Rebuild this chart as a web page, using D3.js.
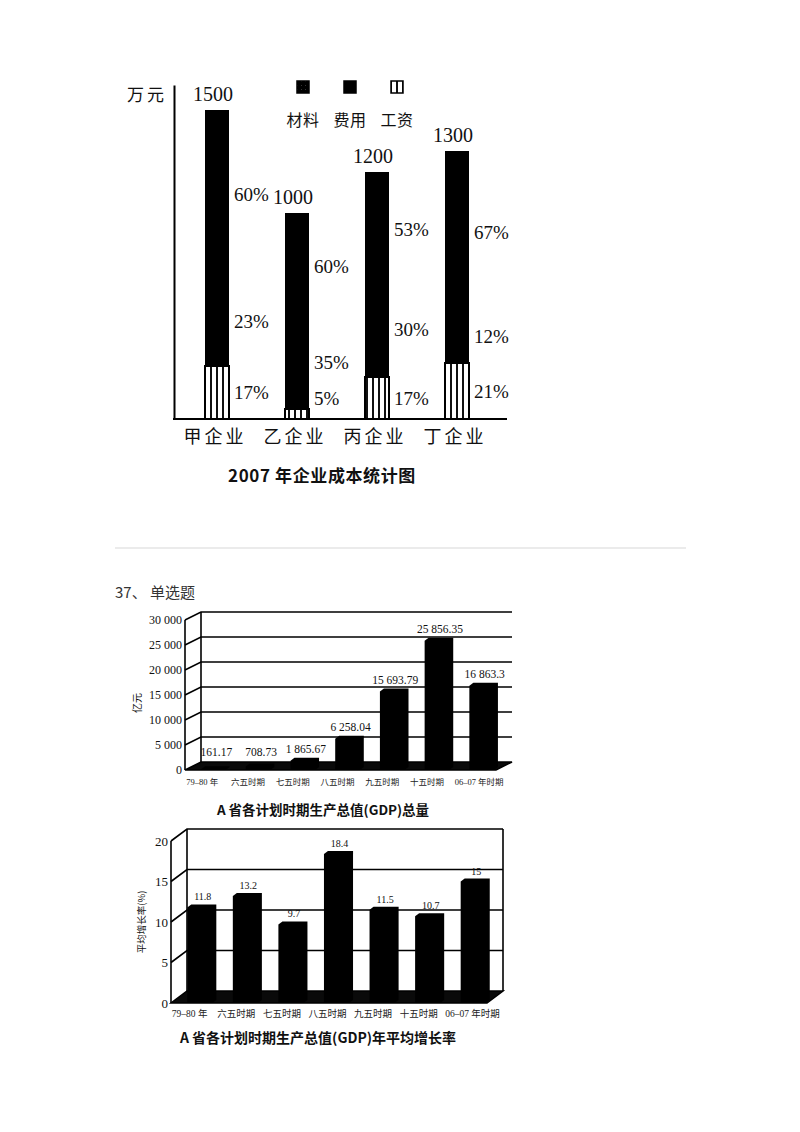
<!DOCTYPE html>
<html>
<head>
<meta charset="utf-8">
<script src="https://cdn.jsdelivr.net/npm/d3@7"></script>
<style>
  body { margin: 0; background: #fff; }
  text { fill: #111; }
</style>
</head>
<body>
<script>
// ---- data: 2007 企业成本统计图 ----
var companies = ["甲企业", "乙企业", "丙企业", "丁企业"];
var totalCost = [1500, 1000, 1200, 1300];
var materialShare = [60, 60, 53, 67];
var expenseShare = [23, 35, 30, 12];
var wageShare = [17, 5, 17, 21];
var costKeys = ["材料", "费用", "工资"];

// ---- data: GDP 总量 & 年平均增长率 ----
var periods = ["79–80 年", "六五时期", "七五时期", "八五时期", "九五时期", "十五时期", "06–07 年时期"];
var gdpTotal = [161.17, 708.73, 1865.67, 6258.04, 15693.79, 25856.35, 16863.3];
var gdpTicks = [0, 5000, 10000, 15000, 20000, 25000, 30000];
var growthRate = [11.8, 13.2, 9.7, 18.4, 11.5, 10.7, 15];
var growthTicks = [0, 5, 10, 15, 20];

var serif = "'Liberation Serif', 'DejaVu Serif', serif";
var cjk = "'Noto Sans CJK SC', 'Noto Sans', sans-serif";
var mixed = "'Liberation Serif', 'Noto Sans CJK SC', serif";

var svg = d3.select("body").append("svg")
  .attr("width", 800)
  .attr("height", 1132);

var defs = svg.append("defs");
var stripe = defs.append("pattern")
  .attr("id", "stripe")
  .attr("patternUnits", "userSpaceOnUse")
  .attr("width", 6).attr("height", 10);
stripe.append("rect").attr("width", 6).attr("height", 10).attr("fill", "#fff");
stripe.append("rect").attr("width", 2).attr("height", 10).attr("fill", "#111");

// slightly grainy black for the 材料 legend swatch
var grain = defs.append("pattern")
  .attr("id", "grain")
  .attr("patternUnits", "userSpaceOnUse")
  .attr("width", 4).attr("height", 4);
grain.append("rect").attr("width", 4).attr("height", 4).attr("fill", "#000");
grain.append("rect").attr("x", 1).attr("y", 1).attr("width", 1).attr("height", 1).attr("fill", "#333");

// ================= chart 1 =================
var rows = companies.map(function(c, i) {
  return {
    company: c,
    "工资": totalCost[i] * wageShare[i] / 100,
    "费用": totalCost[i] * expenseShare[i] / 100,
    "材料": totalCost[i] * materialShare[i] / 100,
    share: { "工资": wageShare[i], "费用": expenseShare[i], "材料": materialShare[i] },
    total: totalCost[i]
  };
});

var x1 = d3.scaleBand().domain(companies).range([177, 497])
  .paddingInner(0.7).paddingOuter(0.35);
var y1 = d3.scaleLinear().domain([0, 1620]).range([419, 85]);

var g1 = svg.append("g");

var stacked = d3.stack().keys(["工资", "费用", "材料"])(rows);
var fills = { "材料": "#000", "费用": "#000", "工资": "url(#stripe)" };

g1.selectAll("g.layer")
  .data(stacked)
  .enter().append("g")
  .attr("class", "layer")
  .selectAll("rect")
  .data(function(s) { return s.map(function(d) { d.key = s.key; return d; }); })
  .enter().append("rect")
  .attr("x", function(d) { return x1(d.data.company); })
  .attr("width", x1.bandwidth())
  .attr("y", function(d) { return Math.round(y1(d[1])); })
  .attr("height", function(d) { return Math.round(y1(d[0])) - Math.round(y1(d[1])) + (d.key === "工资" ? 0 : 1); })
  .attr("fill", function(d) { return fills[d.key]; })
  .attr("shape-rendering", "crispEdges")
  .attr("stroke", "#000")
  .attr("stroke-width", function(d) { return d.key === "工资" ? 1.5 : 0; });

// percent labels next to each segment
var labelShift = { "材料": -8, "费用": -10, "工资": 0 };
stacked.forEach(function(s) {
  g1.selectAll(null)
    .data(s)
    .enter().append("text")
    .attr("x", function(d) { return x1(d.data.company) + x1.bandwidth() + 5; })
    .attr("y", function(d) {
      var mid = y1((d[0] + d[1]) / 2) + labelShift[s.key];
      if (s.key === "工资") mid = Math.min(mid, y1(0) - 21);
      return mid;
    })
    .attr("dy", "0.35em")
    .attr("font-family", serif)
    .attr("font-size", 19)
    .text(function(d) { return d.data.share[s.key] + "%"; });
});

// totals on top
g1.selectAll("text.total")
  .data(rows)
  .enter().append("text")
  .attr("class", "total")
  .attr("x", function(d) { return x1(d.company) + x1.bandwidth() / 2 - 4; })
  .attr("y", function(d) { return y1(d.total) - 9; })
  .attr("text-anchor", "middle")
  .attr("font-family", serif)
  .attr("font-size", 20)
  .text(function(d) { return d.total; });

// axes
g1.append("g")
  .attr("transform", "translate(174,0)")
  .call(d3.axisLeft(y1).tickValues([]).tickSizeOuter(0))
  .select(".domain").attr("stroke-width", 2);

var xAxis1 = g1.append("g")
  .attr("transform", "translate(0,419)")
  .call(d3.axisBottom(x1).tickSize(0).tickPadding(11));
xAxis1.select(".domain").remove();
xAxis1.selectAll("text")
  .attr("font-family", cjk)
  .attr("font-size", 18)
  .attr("letter-spacing", 3)
  .attr("dx", -2)
  .style("fill", "#111");
g1.append("line")
  .attr("x1", 173).attr("x2", 507)
  .attr("y1", y1(0)).attr("y2", y1(0))
  .attr("stroke", "#000").attr("stroke-width", 2.2);

g1.append("text")
  .attr("x", 147).attr("y", 101)
  .attr("text-anchor", "middle")
  .attr("font-family", cjk)
  .attr("font-size", 17)
  .attr("letter-spacing", 3)
  .text("万元");

// legend
var legendFill = { "材料": "url(#grain)", "费用": "#000", "工资": "url(#stripe)" };
var lx = d3.scalePoint().domain(costKeys).range([303, 397]);
g1.selectAll("rect.legend")
  .data(costKeys)
  .enter().append("rect")
  .attr("class", "legend")
  .attr("x", function(d) { return lx(d) - 6; })
  .attr("y", 81)
  .attr("width", 12).attr("height", 12)
  .attr("fill", function(d) { return legendFill[d]; })
  .attr("stroke", "#000").attr("stroke-width", 1.5);
g1.selectAll("text.legend")
  .data(costKeys)
  .enter().append("text")
  .attr("class", "legend")
  .attr("x", function(d) { return lx(d); })
  .attr("y", 126)
  .attr("text-anchor", "middle")
  .attr("font-family", cjk)
  .attr("font-size", 16)
  .attr("letter-spacing", 0.5)
  .text(function(d) { return d; });

g1.append("text")
  .attr("x", 322).attr("y", 482)
  .attr("text-anchor", "middle")
  .attr("font-family", cjk)
  .attr("font-weight", "bold")
  .attr("font-size", 17)
  .attr("letter-spacing", 0.6)
  .text("2007 年企业成本统计图");

// separator and question header
svg.append("line")
  .attr("x1", 115).attr("x2", 686)
  .attr("y1", 548).attr("y2", 548)
  .attr("stroke", "#e4e4e4").attr("stroke-width", 1.5);
svg.append("text")
  .attr("x", 115).attr("y", 598)
  .attr("font-family", cjk)
  .attr("font-size", 15)
  .style("fill", "#333")
  .text("37、 单选题");

// ================= 3D style bar charts =================
var spaced = d3.formatLocale({ decimal: ".", thousands: " ", grouping: [3], currency: ["", ""] }).format(",");

function draw3d(o) {
  var g = svg.append("g");
  var x = d3.scaleBand().domain(periods).range(o.band).paddingInner(0.45).paddingOuter(0.225);
  var y = d3.scaleLinear().domain([0, d3.max(o.ticks)]).range([o.floor, o.top]);
  var dx = o.dx, dy = o.dy;
  var x0 = o.left, xr = o.right;

  // grid on back wall
  g.selectAll("path.grid")
    .data(o.ticks.slice(1))
    .enter().append("path")
    .attr("class", "grid")
    .attr("d", function(t) {
      return "M" + x0 + "," + y(t) + "L" + (x0 + dx) + "," + (y(t) + dy) + "L" + xr + "," + (y(t) + dy);
    })
    .attr("fill", "none").attr("stroke", "#000").attr("stroke-width", 1.6);

  // wall edges
  g.append("line").attr("x1", x0).attr("x2", x0).attr("y1", y.range()[1]).attr("y2", y(0))
    .attr("stroke", "#000").attr("stroke-width", 1.6);
  g.append("line").attr("x1", x0 + dx).attr("x2", x0 + dx).attr("y1", y.range()[1] + dy).attr("y2", y(0) + dy)
    .attr("stroke", "#000").attr("stroke-width", 1.6);
  if (o.rightWall) {
    g.append("line").attr("x1", xr).attr("x2", xr).attr("y1", y.range()[1] + dy).attr("y2", y(0) + dy)
      .attr("stroke", "#000").attr("stroke-width", 1.6);
  }

  // floor
  g.append("path")
    .attr("d", "M" + x0 + "," + y(0) + "L" + (xr - dx) + "," + y(0) + "L" + xr + "," + (y(0) + dy) +
      "L" + (x0 + dx) + "," + (y(0) + dy) + "Z")
    .attr("fill", "#0a0a0a").attr("stroke", "#000").attr("stroke-width", 1.5);

  // bars: front face with a thin top and side
  var bw = x.bandwidth(), bd = 4, bh = -3;
  g.selectAll("path.bar")
    .data(o.values)
    .enter().append("path")
    .attr("class", "bar")
    .attr("d", function(v, i) {
      var xl = x(periods[i]), yt = y(v), yb = y(0);
      return "M" + xl + "," + yb + "L" + xl + "," + yt + "L" + (xl + bd) + "," + (yt + bh) +
        "L" + (xl + bw + bd) + "," + (yt + bh) + "L" + (xl + bw + bd) + "," + (yb + bh) +
        "L" + (xl + bw) + "," + yb + "Z";
    })
    .attr("fill", "#000");

  // value labels
  g.selectAll("text.val")
    .data(o.values)
    .enter().append("text")
    .attr("class", "val")
    .attr("x", function(v, i) { return x(periods[i]) + bw / 2 + 3; })
    .attr("y", function(v) { return Math.min(y(v) - o.labelGap, y(0) - 14); })
    .attr("text-anchor", "middle")
    .attr("font-family", serif)
    .attr("font-size", o.valueSize)
    .text(function(v) { return spaced(v); });

  // y tick labels
  g.selectAll("text.tick")
    .data(o.ticks)
    .enter().append("text")
    .attr("class", "tick")
    .attr("x", x0 - 3)
    .attr("y", function(t) { return y(t); })
    .attr("dy", "0.35em")
    .attr("text-anchor", "end")
    .attr("font-family", serif)
    .attr("font-size", o.tickSize)
    .text(function(t) { return spaced(t); });

  // category labels, left-aligned a little before each bar
  g.selectAll("text.cat")
    .data(periods)
    .enter().append("text")
    .attr("class", "cat")
    .attr("x", function(p) { return x(p) + bw / 2 - o.catShift; })
    .attr("y", y(0) + o.catGap)
    .attr("font-family", mixed)
    .attr("font-size", o.catSize)
    .style("fill", "#222")
    .text(function(p) { return p; });

  // y title
  g.append("text")
    .attr("transform", "translate(" + o.yTitlePos[0] + "," + o.yTitlePos[1] + ") rotate(-90)")
    .attr("text-anchor", "middle")
    .attr("dy", "0.35em")
    .attr("font-family", cjk)
    .attr("font-size", o.yTitleSize)
    .text(o.yTitle);

  // chart title
  g.append("text")
    .attr("x", o.titlePos[0]).attr("y", o.titlePos[1])
    .attr("text-anchor", "middle")
    .attr("font-family", cjk)
    .attr("font-weight", "bold")
    .attr("font-size", o.titleSize)
    .text(o.title);
}

draw3d({
  values: gdpTotal, ticks: gdpTicks,
  band: [191, 504], left: 185, right: 512, floor: 770, top: 620, dx: 16, dy: -8,
  rightWall: false, labelGap: 8, valueSize: 11.5, tickSize: 12,
  catSize: 8.5, catGap: 15, catShift: 27,
  yTitle: "亿元", yTitlePos: [137, 703], yTitleSize: 10,
  title: "A 省各计划时期生产总值(GDP)总量", titlePos: [323, 815], titleSize: 13.5
});

draw3d({
  values: growthRate, ticks: growthTicks,
  band: [177, 496], left: 171, right: 503, floor: 1003, top: 841, dx: 16, dy: -12,
  rightWall: true, labelGap: 7, valueSize: 10, tickSize: 13,
  catSize: 9.5, catGap: 14, catShift: 28,
  yTitle: "平均增长率(%)", yTitlePos: [142, 922], yTitleSize: 9.5,
  title: "A 省各计划时期生产总值(GDP)年平均增长率", titlePos: [318, 1043], titleSize: 14
});
</script>
</body>
</html>
